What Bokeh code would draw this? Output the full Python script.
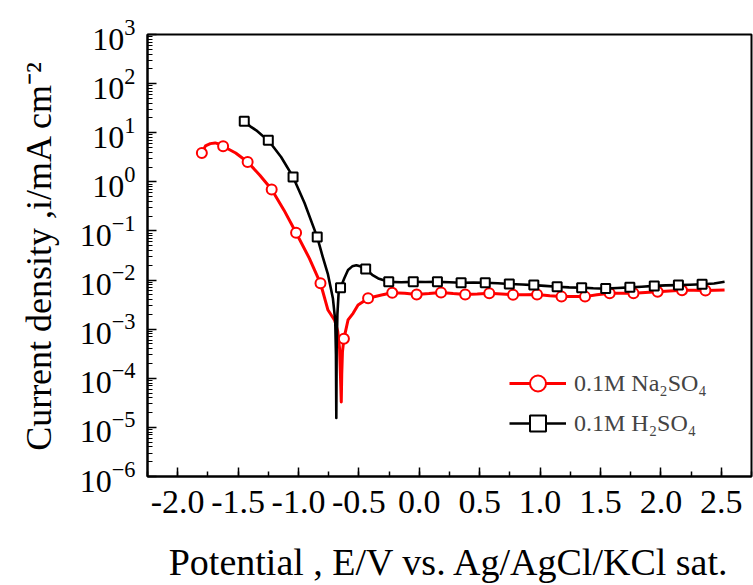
import numpy as np
from bokeh.plotting import figure
from bokeh.models import (SingleIntervalTicker, PrintfTickFormatter, LogTicker,
                          Legend, LegendItem)
from bokeh.embed import file_html
from bokeh.resources import INLINE

# ---- data (potential in V, current density in mA/cm2) ----
na_e = [-1.80, -1.77, -1.73, -1.69, -1.66, -1.624, -1.52, -1.421, -1.32, -1.222, -1.12,
        -1.02, -0.91, -0.818, -0.756, -0.70, -0.675, -0.66, -0.652, -0.646, -0.642,
        -0.636, -0.624, -0.59, -0.548, -0.507, -0.466, -0.424, -0.313, -0.224, -0.12,
        -0.022, 0.08, 0.18, 0.28, 0.38, 0.48, 0.579, 0.68, 0.776, 0.875, 0.975, 1.08,
        1.177, 1.27, 1.372, 1.47, 1.576, 1.67, 1.773, 1.87, 1.973, 2.07, 2.175, 2.27,
        2.369, 2.45, 2.527]
na_i = [3.87, 5.4, 6.0, 6.2, 5.9, 5.3, 3.87, 2.54, 1.36, 0.70, 0.265,
        0.092, 0.0277, 0.0086, 0.00245, 0.0015, 9e-4, 4e-4, 1e-4, 3.3e-5, 1.2e-4,
        3.5e-4, 6.4e-4, 1.54e-3, 2.1e-3, 3.1e-3, 3.6e-3, 4.25e-3, 4.95e-3, 5.5e-3, 5.4e-3,
        5.1e-3, 5.3e-3, 5.6e-3, 5.3e-3, 5.1e-3, 5.2e-3, 5.4e-3, 5.2e-3, 5.0e-3, 5.0e-3,
        5.1e-3, 4.8e-3, 4.6e-3, 4.6e-3, 4.6e-3, 5.0e-3, 5.4e-3, 5.4e-3, 5.4e-3, 5.6e-3,
        5.8e-3, 6.0e-3, 6.2e-3, 6.2e-3, 6.1e-3, 6.2e-3, 6.3e-3]
na_mark_e = [-1.80, -1.624, -1.421, -1.222, -1.02, -0.818, -0.624, -0.424, -0.224, -0.022,
             0.18, 0.38, 0.579, 0.776, 0.975, 1.177, 1.372, 1.576, 1.773, 1.973, 2.175, 2.369]
na_mark_i = [3.87, 5.3, 2.54, 0.70, 0.092, 0.0086, 6.4e-4, 4.25e-3, 5.5e-3, 5.1e-3,
             5.6e-3, 5.1e-3, 5.4e-3, 5.0e-3, 5.1e-3, 4.6e-3, 4.6e-3, 5.4e-3, 5.4e-3, 5.8e-3,
             6.2e-3, 6.1e-3]

h_e = [-1.449, -1.40, -1.35, -1.30, -1.25, -1.144, -1.045, -0.95, -0.845, -0.80, -0.756,
       -0.715, -0.696, -0.690, -0.687, -0.684, -0.678, -0.668, -0.652, -0.62, -0.59,
       -0.555, -0.521, -0.49, -0.444, -0.39, -0.34, -0.253, -0.15, -0.05, 0.05, 0.15,
       0.25, 0.346, 0.45, 0.546, 0.65, 0.745, 0.85, 0.948, 1.04, 1.141, 1.24, 1.344,
       1.44, 1.543, 1.64, 1.743, 1.84, 1.945, 2.04, 2.145, 2.24, 2.341, 2.44, 2.527]
h_i = [17.1, 13.5, 11.2, 8.8, 7.0, 3.2, 1.26, 0.37, 0.075, 0.03, 0.013,
       0.0042, 0.0015, 3e-4, 1.55e-5, 4e-4, 2e-3, 5.4e-3, 0.007, 0.011, 0.016,
       0.019, 0.020, 0.019, 0.0167, 0.0128, 0.0108, 0.0092, 0.0090, 0.0092, 0.0091, 0.0092,
       0.0090, 0.0088, 0.0089, 0.0088, 0.0086, 0.0083, 0.0081, 0.0079, 0.0076, 0.0073,
       0.0071, 0.0070, 0.0068, 0.0067, 0.0069, 0.0071, 0.0073, 0.0076, 0.0078, 0.0079,
       0.0080, 0.0082, 0.0085, 0.0092]
h_mark_e = [-1.449, -1.25, -1.045, -0.845, -0.652, -0.444, -0.253, -0.05, 0.15, 0.346,
            0.546, 0.745, 0.948, 1.141, 1.344, 1.543, 1.743, 1.945, 2.145, 2.341]
h_mark_i = [17.1, 7.0, 1.26, 0.075, 0.007, 0.0167, 0.0092, 0.0092, 0.0092, 0.0088,
            0.0088, 0.0083, 0.0079, 0.0073, 0.0070, 0.0067, 0.0071, 0.0076, 0.0079, 0.0082]

label_na = "0.1M Na\u2082SO\u2084"
label_h = "0.1M H\u2082SO\u2084"
x_title = "Potential , E/V vs. Ag/AgCl/KCl sat."
y_title = "Current density ,i/mA cm\u207b\u00b2"

FONT = "Liberation Serif"

p = figure(width=753, height=585, y_axis_type="log",
           x_range=(-2.25, 2.75), y_range=(1e-6, 1e3),
           output_backend="svg", toolbar_location=None)
p.min_border_left = 147
p.min_border_right = 2
p.min_border_top = 34
p.min_border_bottom = 108
p.background_fill_color = "white"
p.border_fill_color = "white"
p.outline_line_color = "black"
p.outline_line_width = 2
p.xgrid.visible = False
p.ygrid.visible = False

# x axis
xa = p.xaxis[0]
xa.ticker = SingleIntervalTicker(interval=0.5, num_minor_ticks=2)
xa.formatter = PrintfTickFormatter(format="%.1f")
xa.major_label_text_font = FONT
xa.major_label_text_font_size = "34px"
xa.major_label_text_color = "black"
xa.major_tick_in = 9
xa.major_tick_out = 0
xa.minor_tick_in = 5
xa.minor_tick_out = 0
xa.axis_line_width = 2
xa.major_tick_line_width = 1.5
xa.minor_tick_line_width = 1.5
xa.major_label_standoff = 14
xa.axis_label = x_title
xa.axis_label_text_font = FONT
xa.axis_label_text_font_size = "38px"
xa.axis_label_text_font_style = "normal"
xa.axis_label_text_color = "black"
xa.axis_label_standoff = 25

ya = p.yaxis[0]
ya.ticker = LogTicker(num_minor_ticks=10, desired_num_ticks=10)
ya.major_label_text_font = FONT
ya.major_label_text_font_size = "32px"
ya.major_label_text_color = "black"
ya.major_tick_in = 9
ya.major_tick_out = 0
ya.minor_tick_in = 5
ya.minor_tick_out = 0
ya.axis_line_width = 2
ya.major_tick_line_width = 1.5
ya.minor_tick_line_width = 1
ya.major_label_standoff = 12
ya.axis_label = y_title
ya.axis_label_text_font = FONT
ya.axis_label_text_font_size = "36px"
ya.axis_label_text_font_style = "normal"
ya.axis_label_text_color = "black"
ya.axis_label_standoff = 18

# curves
r_na_line = p.line(na_e, na_i, line_color="#ff0000", line_width=3, line_join="round")
r_na_mark = p.scatter(na_mark_e, na_mark_i, marker="circle", size=10,
                      line_color="#ff0000", line_width=2, fill_color="white")
r_h_line = p.line(h_e, h_i, line_color="black", line_width=2.6, line_join="round")
r_h_mark = p.scatter(h_mark_e, h_mark_i, marker="square", size=9,
                     line_color="black", line_width=2, fill_color="white")

legend = Legend(items=[LegendItem(label=label_na, renderers=[r_na_line, r_na_mark]),
                       LegendItem(label=label_h, renderers=[r_h_line, r_h_mark])],
                location=(362, 33), padding=0, spacing=0, margin=0,
                glyph_width=57, glyph_height=40, label_height=40, label_standoff=8,
                label_text_font=FONT, label_text_font_size="24px",
                border_line_color=None, background_fill_alpha=0)
p.add_layout(legend, "center")

open("out.html", "w").write(file_html(p, INLINE))
